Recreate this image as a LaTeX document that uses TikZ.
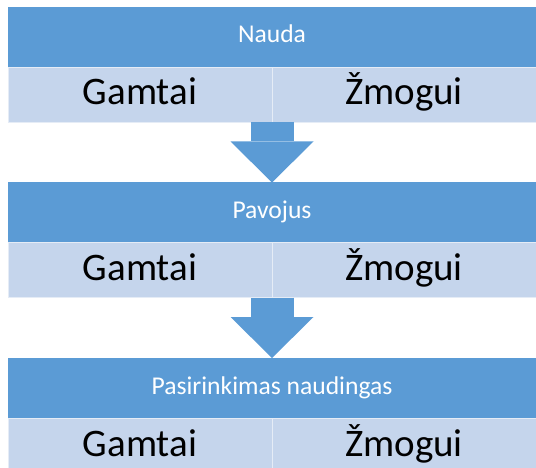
\documentclass[tikz,border=0pt]{standalone}
\usepackage{fontspec}
\setmainfont{Carlito}
\usetikzlibrary{arrows.meta}
\definecolor{hdrblue}{HTML}{5B9BD5}
\definecolor{celblue}{HTML}{C5D5EC}
\begin{document}
\begin{tikzpicture}[x=1pt,y=1pt,
  hdr/.style={fill=hdrblue, text=white, minimum width=528pt, minimum height=60pt,
    inner sep=0pt, outer sep=0pt, text height=18pt, text depth=6pt,
    font=\fontsize{25.6}{28}\selectfont},
  cell/.style={fill=celblue, draw=white!55!celblue, line width=0.8pt,
    minimum width=264pt, minimum height=55pt, inner sep=0pt, outer sep=0pt,
    text height=28pt, text depth=7pt, font=\fontsize{39}{42}\selectfont},
  blockarr/.style={draw=hdrblue, line width=43pt,
    -{Triangle[length=41pt 0 0, width=83pt 0 0, line width=0pt 0 0]}}]
\useasboundingbox (0,0) rectangle (536,-468);
\clip (0,0) rectangle (536,-468);
% ---- three blocks: heading over two cells ----
\foreach \lbl [count=\k] in {Nauda, Pavojus, Pasirinkimas naudingas} {
  \node[hdr] (h\k) at (272,{-37-175.5*(\k-1)}) {\lbl};
  \node[cell, anchor=north east] (g\k) at (h\k.south) {Gamtai};
  \node[cell, anchor=north west] (z\k) at (h\k.south) {Žmogui};
}
% ---- block arrows between them ----
\foreach \k [evaluate=\k as \n using int(\k+1)] in {1,2}
  \draw[blockarr] (g\k.south east) -- (h\n.north);
\end{tikzpicture}
\end{document}
